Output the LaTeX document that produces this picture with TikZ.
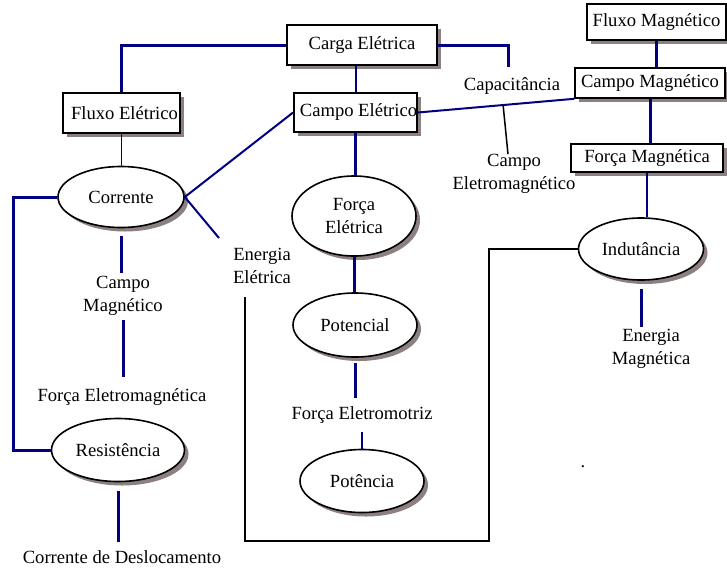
\documentclass[tikz,border=0pt]{standalone}
\usepackage{fontspec}
\setmainfont{Liberation Serif}
\usetikzlibrary{shapes.geometric,shadows,calc}
\definecolor{linkblue}{RGB}{0,0,128}
\definecolor{shadecol}{RGB}{140,128,128}
\begin{document}
\begin{tikzpicture}[x=1pt,y=-1pt,
  every node/.style={font=\fontsize{18.6}{23}\selectfont, inner sep=0pt, align=center},
  dropshade/.style={drop shadow={shadow xshift=4pt, shadow yshift=-4pt, fill=shadecol, opacity=1}},
  conceptbox/.style={rectangle, draw=black, line width=1.6pt, fill=white, dropshade},
  conceptoval/.style={ellipse, draw=black, line width=1.6pt, fill=white, dropshade},
  strong/.style={draw=linkblue, line width=3pt},
  weak/.style={draw=linkblue, line width=1.2pt},
  medium/.style={draw=linkblue, line width=2pt},
  plain/.style={draw=black, line width=1.5pt}]
\useasboundingbox (0,0) rectangle (727,576);

% boxes
\node[conceptbox, minimum width=150pt, minimum height=40pt] (carga) at (362,45) {Carga Elétrica};
\node[conceptbox, minimum width=117pt, minimum height=40pt] (fluxoE) at (121.5,113) {\hspace*{6pt}Fluxo Elétrico};
\node[conceptbox, minimum width=123pt, minimum height=39pt] (campoE) at (355.5,112.5) {\hspace*{6pt}Campo Elétrico};
\node[conceptbox, minimum width=139pt, minimum height=36pt] (fluxoM) at (656.5,22) {Fluxo Magnético};
\node[conceptbox, minimum width=150pt, minimum height=30pt] (campoM) at (650,83) {Campo Magnético};
\node[conceptbox, minimum width=152pt, minimum height=28pt] (forcaM) at (647,158) {Força Magnética};

% ellipses
\node[conceptoval, minimum width=126pt, minimum height=61pt] (corrente) at (121,197) {Corrente};
\node[conceptoval, minimum width=133pt, minimum height=63pt] (resist) at (118,450) {Resistência};
\node[conceptoval, minimum width=124pt, minimum height=80pt] (forcaE) at (354,216) {Força\\Elétrica};
\node[conceptoval, minimum width=124pt, minimum height=64pt] (potencial) at (355,325) {Potencial};
\node[conceptoval, minimum width=124pt, minimum height=63pt] (potencia) at (362,481) {Potência};
\node[conceptoval, minimum width=125pt, minimum height=62pt] (indut) at (641,249) {Indutância};

% free labels
\node (cmLbl) at (123,296) {Campo\\Magnético};
\node (femLbl) at (122,397) {Força Eletromagnética};
\node (deslLbl) at (122,557) {Corrente de Deslocamento};
\node (eeLbl) at (262,266) {Energia\\Elétrica};
\node (capLbl) at (512,86) {Capacitância};
\node (cemLbl) at (514,174) {Campo\\Eletromagnético};
\node (emLbl) at (651,349) {Energia\\Magnética};
\node (femzLbl) at (362,415) {Força Eletromotriz};
\node[anchor=base] (dotLbl) at (583,467) {.};

% helper points
\coordinate (capTop) at (508,67);
\coordinate (eeTip) at (219,238);
\coordinate (loopTop) at (245,297);
\coordinate (loopLow) at (489,541);

% connectors
\draw[strong] (carga.west) -| (fluxoE.north);
\draw[strong] (carga.east) -| (capTop);
\draw[medium] (campoE.north) -- (campoE.north |- carga.south);
\draw[weak] (fluxoE.south) -- (fluxoE.south |- corrente.north);
\draw[medium] (corrente.east) -- (campoE.west);
\draw[medium] (corrente.east) -- (eeTip);
\draw[strong] (corrente.west) -- ++(-44,0) |- (resist.west);
\draw[strong, shorten <=8pt, shorten >=3pt] (corrente.south) -- (corrente.south |- cmLbl.north);
\draw[strong, shorten <=4pt, shorten >=11pt] (cmLbl.south) -- (cmLbl.south |- femLbl.north);
\draw[strong, shorten <=9pt, shorten >=8pt] (resist.south) -- (resist.south |- deslLbl.north);
\draw[strong] (campoE.south) -- (campoE.south |- forcaE.north);
\draw[strong] (forcaE.south) -- (forcaE.south |- potencial.north);
\draw[strong, shorten <=5pt, shorten >=8pt] (potencial.south) -- (potencial.south |- femzLbl.north);
\draw[weak, shorten <=8pt] (femzLbl.south) -- (femzLbl.south |- potencia.north);
\draw[strong] (fluxoM.south) -- (fluxoM.south |- campoM.north);
\draw[strong] (campoM.south) -- (campoM.south |- forcaM.north);
\draw[weak] (forcaM.south) -- (forcaM.south |- indut.north);
\draw[strong, shorten <=8pt, shorten >=2pt] (indut.south) -- (indut.south |- emLbl.north);
\draw[medium] (campoE.east) -- (campoM.south west);
\coordinate (emFoot) at ($(campoE.east)!0.545!(campoM.south west)$);
\draw[plain] (emFoot) -- ([xshift=-6pt]cemLbl.north);
\draw[plain] (indut.west) -| (loopLow) -| (loopTop);
\end{tikzpicture}
\end{document}
